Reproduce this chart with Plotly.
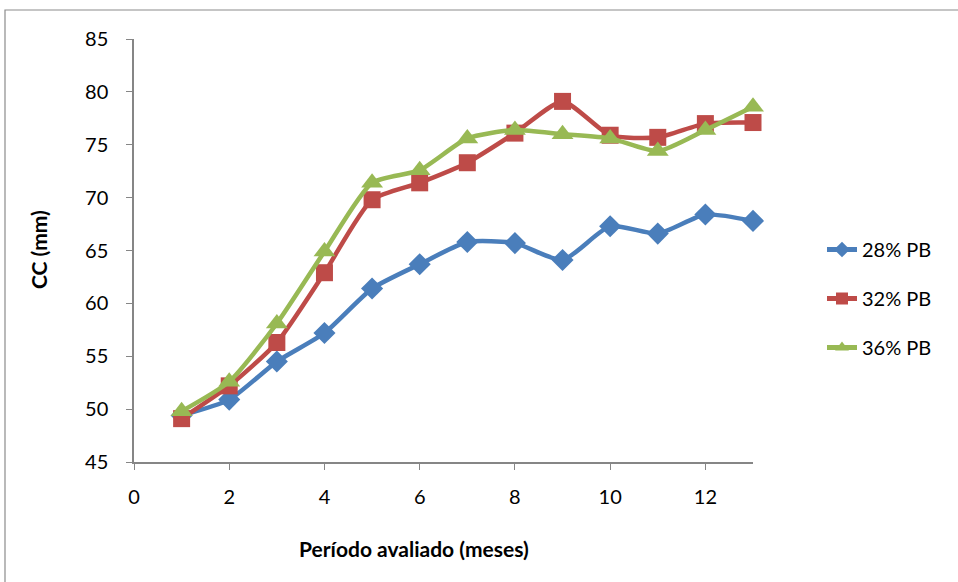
import plotly.graph_objects as go

months = [1, 2, 3, 4, 5, 6, 7, 8, 9, 10, 11, 12, 13]
pb28 = [49.4, 50.9, 54.5, 57.2, 61.4, 63.7, 65.8, 65.7, 64.1, 67.3, 66.6, 68.4, 67.8]
pb32 = [49.1, 52.2, 56.3, 62.9, 69.8, 71.4, 73.3, 76.1, 79.1, 75.9, 75.7, 77.0, 77.1]
pb36 = [49.8, 52.6, 58.1, 64.9, 71.4, 72.6, 75.6, 76.4, 76.0, 75.6, 74.4, 76.4, 78.6]
names = ["28% PB", "32% PB", "36% PB"]
colors = ["#4A7EBB", "#BE4B48", "#98B954"]
symbols = ["diamond", "square", "triangle-up"]
sizes = [17, 17, 19]

fig = go.Figure()
for ys, nm, c, s, sz in zip([pb28, pb32, pb36], names, colors, symbols, sizes):
    fig.add_trace(go.Scatter(
        x=months, y=ys, name=nm, legendgroup=nm, mode="lines+markers",
        line=dict(color=c, width=4.5, shape="spline", smoothing=0.6),
        marker=dict(symbol=s, size=sz, color=c),
        cliponaxis=False,
    ))

L, R, T, B = 134, 958 - 753, 39, 582 - 462
W, H = 958 - L - R, 582 - T - B
font = "Lato, Open Sans, sans-serif"

fig.update_layout(
    width=958, height=582,
    margin=dict(l=L, r=R, t=T, b=B),
    paper_bgcolor="white", plot_bgcolor="white",
    font=dict(family=font, size=20, color="black"),
    showlegend=True,
    legend=dict(x=(822 - L) / W, y=(462 - 230) / H, xanchor="left", yanchor="top",
                font=dict(size=20), tracegroupgap=20, itemsizing="constant",
                bgcolor="rgba(0,0,0,0)"),
    xaxis=dict(range=[0, 13], dtick=2, tick0=0, showgrid=False, zeroline=False,
               showline=True, linecolor="#868686", linewidth=1.5,
               ticks="outside", ticklen=6, tickcolor="#868686",
               ticklabelstandoff=10, tickfont=dict(size=20)),
    yaxis=dict(range=[45, 85], dtick=5, tick0=45, showgrid=False, zeroline=False,
               showline=True, linecolor="#868686", linewidth=1.5,
               ticks="outside", ticklen=6, tickcolor="#868686",
               ticklabelstandoff=14, tickfont=dict(size=20)),
    annotations=[
        dict(text="<b>Período avaliado (meses)</b>", x=(414 - L) / W, y=(462 - 548) / H,
             xref="paper", yref="paper", showarrow=False, font=dict(size=21),
             xanchor="center", yanchor="middle"),
        dict(text="<b>CC (mm)</b>", x=(38 - L) / W, y=(462 - 250) / H,
             xref="paper", yref="paper", showarrow=False, font=dict(size=21),
             textangle=-90, xanchor="center", yanchor="middle"),
    ],
    shapes=[
        dict(type="rect", xref="paper", yref="paper",
             x0=(5 - L) / W, y0=-2, x1=3, y1=(462 - 10) / H,
             line=dict(color="#8C8C8C", width=1.2), layer="below"),
    ],
)

fig.write_html("out.html")
